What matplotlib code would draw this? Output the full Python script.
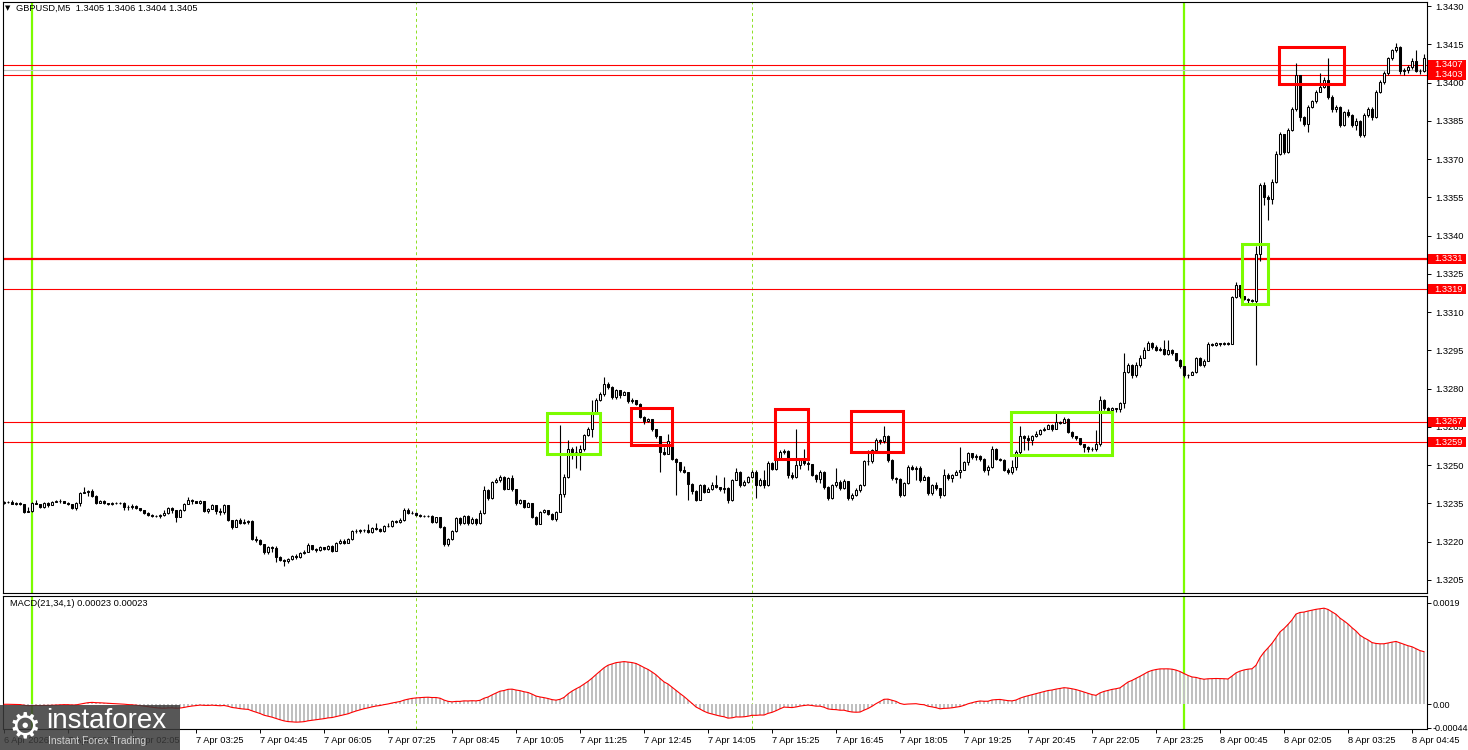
import numpy as np
import pandas as pd
import matplotlib
matplotlib.use('Agg')
import matplotlib.pyplot as plt
import matplotlib.transforms as mtransforms
from matplotlib.patches import Rectangle

plt.rcParams['font.family'] = ['Liberation Sans', 'DejaVu Sans']

# GBPUSD M5, bars numbered from 7 Apr 00:00 (bar 0), first bar 6 Apr 23:25
# prices given in pips above 1.3200
first_bar = -7
first_open_pips = 35.3
close_pips = [
    35.5, 35.6, 34.8, 35.2, 34.7, 31.7, 32.1, 35.3, 34.9, 33.6,
    35.3, 34.3, 35.6, 36.1, 35.8, 35.3, 34.6, 33.4, 35.1, 39.0,
    39.4, 39.8, 38.0, 35.2, 36.0, 35.0, 34.8, 35.2, 35.0, 35.3,
    33.8, 33.5, 34.1, 33.2, 32.3, 31.4, 30.6, 30.2, 30.0, 30.6,
    31.3, 33.2, 32.5, 29.8, 32.4, 34.9, 36.3, 35.8, 35.3, 35.8,
    32.2, 33.0, 34.3, 32.0, 31.5, 34.4, 28.5, 25.8, 28.5, 27.2,
    27.6, 28.2, 20.9, 20.8, 19.2, 15.8, 18.0, 17.4, 14.2, 12.8,
    12.3, 13.3, 14.4, 13.9, 15.5, 16.1, 18.7, 17.0, 16.6, 17.8,
    17.1, 18.4, 16.3, 19.4, 20.4, 19.6, 20.9, 24.2, 24.3, 24.4,
    24.6, 24.0, 25.4, 25.1, 24.2, 26.3, 26.0, 28.1, 27.8, 28.4,
    32.6, 31.4, 31.3, 30.4, 30.2, 30.1, 30.0, 27.8, 29.5, 25.9,
    19.0, 20.9, 24.3, 29.2, 27.2, 30.1, 27.2, 29.1, 27.2, 31.3,
    40.2, 37.0, 43.4, 44.1, 45.4, 40.8, 44.8, 40.5, 35.0, 36.3,
    33.7, 35.0, 29.8, 27.1, 31.7, 32.3, 31.0, 29.1, 31.7, 38.9,
    45.4, 56.5, 55.2, 55.0, 56.2, 61.7, 64.3, 70.2, 75.4, 78.0,
    82.0, 80.7, 76.6, 79.3, 77.4, 78.5, 75.0, 75.4, 74.0, 69.0,
    67.3, 68.0, 64.0, 61.3, 55.2, 54.5, 59.5, 52.6, 51.3, 48.0,
    47.4, 42.8, 40.0, 36.5, 42.2, 39.6, 40.5, 42.2, 41.5, 40.5,
    41.0, 36.3, 44.2, 47.4, 42.2, 43.5, 45.2, 47.4, 42.2, 44.0,
    42.2, 51.0, 48.7, 52.6, 55.0, 55.5, 46.1, 45.5, 50.0, 52.0,
    51.0, 50.5, 46.1, 44.5, 47.5, 41.5, 37.2, 42.2, 43.5, 41.0,
    43.8, 37.2, 38.5, 40.3, 42.2, 51.5, 51.8, 55.8, 59.8, 59.3,
    61.5, 52.0, 44.8, 44.5, 38.5, 42.9, 49.4, 48.6, 48.8, 44.2,
    45.5, 39.0, 42.2, 40.9, 38.3, 46.1, 44.8, 46.1, 47.4, 48.1,
    51.3, 54.6, 53.3, 53.6, 52.5, 48.1, 49.4, 56.5, 52.6, 52.0,
    48.1, 47.4, 49.4, 55.2, 61.4, 60.6, 59.8, 61.4, 62.1, 63.7,
    64.2, 65.7, 64.0, 67.0, 66.7, 68.3, 63.1, 61.4, 60.6, 58.5,
    57.2, 56.5, 56.3, 58.3, 75.5, 72.5, 71.6, 72.5, 72.0, 74.2,
    86.6, 89.2, 85.3, 89.2, 92.2, 95.3, 97.9, 96.4, 95.3, 95.6,
    93.5, 95.1, 93.8, 91.4, 88.8, 85.3, 85.5, 86.6, 92.2, 89.2,
    91.0, 97.7, 97.0, 97.9, 97.5, 97.9, 97.7, 116.0, 120.5, 116.2,
    115.3, 114.8, 114.5, 132.7, 159.7, 155.0, 154.5, 161.0, 172.1, 179.7,
    172.7, 181.5, 189.7, 202.8, 186.5, 183.8, 190.4, 192.7, 196.3, 198.2,
    201.1, 194.3, 189.7, 190.3, 183.2, 188.4, 187.1, 183.2, 185.0, 179.3,
    187.1, 189.7, 186.5, 196.3, 200.2, 203.8, 209.6, 212.6, 214.0, 204.7,
    205.0, 206.2, 208.6, 204.7, 204.5, 209.5,
]
high_pips = [
    35.9, 36.1, 36.3, 35.6, 35.4, 34.9, 33.6, 35.7, 36.3, 34.9,
    35.6, 35.5, 35.8, 36.4, 36.6, 36.1, 35.6, 34.7, 35.4, 39.3,
    41.4, 40.4, 40.5, 38.3, 36.3, 36.2, 35.3, 35.6, 35.5, 35.6,
    35.4, 34.2, 34.6, 34.5, 33.4, 32.5, 31.6, 30.9, 30.6, 30.9,
    32.4, 33.5, 33.7, 32.3, 32.7, 35.2, 37.7, 36.6, 36.0, 36.5,
    35.9, 33.4, 34.6, 34.5, 33.4, 34.7, 34.3, 28.6, 28.8, 29.4,
    28.8, 28.6, 28.4, 22.1, 21.2, 18.6, 18.4, 18.5, 18.3, 14.5,
    13.4, 13.6, 14.7, 15.2, 15.9, 16.8, 19.5, 18.9, 17.5, 18.2,
    17.9, 18.8, 18.6, 19.8, 21.1, 20.9, 21.3, 24.6, 24.8, 24.9,
    25.0, 26.9, 25.7, 27.4, 25.2, 26.6, 27.3, 28.5, 28.6, 29.2,
    33.4, 33.1, 32.0, 31.5, 30.8, 30.6, 30.5, 30.3, 29.8, 29.3,
    26.2, 21.3, 24.7, 29.6, 29.5, 30.5, 30.4, 29.5, 29.4, 32.5,
    41.9, 40.5, 43.8, 45.0, 46.2, 45.9, 45.4, 46.0, 40.7, 36.8,
    36.5, 35.4, 35.2, 30.0, 32.1, 32.9, 32.6, 31.2, 32.0, 65.6,
    46.5, 60.0, 57.0, 57.5, 57.8, 62.3, 65.0, 75.4, 76.2, 78.8,
    84.6, 82.6, 80.9, 80.0, 79.5, 79.2, 78.6, 76.2, 75.0, 74.2,
    69.2, 68.6, 68.2, 64.3, 61.5, 57.0, 62.4, 59.8, 53.0, 50.9,
    49.5, 47.0, 43.0, 40.1, 42.8, 42.5, 41.6, 43.5, 46.1, 41.5,
    45.5, 41.3, 44.6, 49.0, 47.6, 44.2, 45.8, 48.2, 48.0, 45.0,
    48.0, 51.8, 51.4, 54.0, 56.0, 56.2, 55.8, 47.3, 64.0, 53.0,
    56.2, 51.5, 50.0, 46.5, 48.0, 47.8, 42.0, 42.8, 49.0, 44.0,
    44.5, 42.5, 39.0, 41.0, 42.8, 52.0, 56.0, 56.3, 60.5, 60.3,
    65.3, 61.8, 52.5, 45.5, 45.0, 43.5, 49.9, 50.0, 49.5, 49.5,
    46.2, 45.8, 42.6, 43.5, 40.9, 48.5, 47.0, 46.6, 48.3, 57.2,
    51.8, 55.2, 54.8, 54.5, 54.0, 52.8, 50.0, 57.5, 56.8, 53.0,
    52.5, 48.8, 52.0, 56.0, 65.3, 62.0, 61.8, 62.0, 63.5, 64.2,
    65.0, 66.3, 66.2, 70.7, 67.5, 68.8, 68.6, 63.5, 61.6, 60.0,
    58.5, 57.6, 57.2, 63.7, 77.0, 76.0, 72.8, 73.0, 72.6, 74.8,
    94.0, 90.0, 89.5, 90.5, 93.0, 96.5, 98.5, 98.3, 97.0, 96.2,
    99.0, 99.2, 95.5, 94.0, 91.6, 89.0, 85.8, 87.0, 92.6, 92.5,
    91.5, 98.3, 98.0, 98.4, 98.0, 98.3, 98.4, 116.5, 122.0, 120.8,
    116.5, 115.5, 115.2, 136.0, 160.5, 161.0, 156.0, 162.0, 173.0, 180.5,
    180.0, 182.0, 190.5, 207.6, 203.0, 187.0, 191.0, 193.3, 197.0, 203.7,
    202.0, 209.8, 195.0, 191.0, 190.8, 189.0, 189.5, 187.5, 186.0, 185.3,
    188.0, 190.5, 190.5, 197.0, 201.0, 204.5, 210.0, 213.2, 215.5, 214.3,
    205.8, 206.8, 209.5, 212.6, 205.5, 211.0,
]
low_pips = [
    34.9, 35.1, 34.6, 34.5, 34.3, 31.4, 31.5, 31.8, 34.7, 33.3,
    33.4, 33.5, 34.2, 35.4, 35.3, 35.1, 34.3, 32.7, 32.5, 33.9,
    39.0, 38.0, 37.6, 34.8, 35.1, 34.7, 34.2, 34.3, 34.8, 34.9,
    32.5, 32.4, 32.9, 33.0, 31.9, 31.0, 30.2, 29.8, 29.7, 29.4,
    30.2, 31.0, 31.3, 27.9, 29.6, 32.2, 34.9, 34.9, 35.0, 34.6,
    31.5, 31.1, 32.8, 31.0, 30.6, 30.9, 28.0, 25.1, 25.6, 26.8,
    26.8, 27.0, 20.5, 19.8, 18.8, 15.3, 15.2, 16.0, 12.0, 12.3,
    10.6, 11.8, 12.9, 13.4, 13.7, 15.3, 15.9, 16.7, 15.9, 16.4,
    16.6, 16.9, 15.9, 16.2, 19.1, 19.3, 19.5, 20.6, 23.5, 23.6,
    23.8, 23.6, 23.4, 24.6, 23.9, 24.0, 25.6, 25.7, 27.4, 27.5,
    28.1, 30.9, 30.8, 30.1, 29.7, 29.7, 29.6, 27.5, 27.3, 25.5,
    18.4, 18.3, 20.6, 24.0, 26.7, 26.9, 26.6, 26.8, 26.5, 27.0,
    31.0, 36.2, 36.8, 43.0, 43.6, 40.3, 40.5, 40.0, 34.2, 34.8,
    33.2, 33.5, 29.3, 26.5, 26.9, 31.4, 30.6, 28.6, 28.3, 31.5,
    37.6, 45.0, 52.5, 49.0, 48.0, 55.5, 61.3, 61.0, 70.0, 75.0,
    77.0, 80.0, 75.8, 76.0, 76.5, 77.8, 74.5, 74.3, 73.5, 68.5,
    66.2, 67.0, 63.5, 60.5, 47.4, 53.8, 54.3, 52.0, 38.2, 47.2,
    46.8, 36.3, 38.8, 35.8, 36.2, 39.0, 39.3, 40.2, 40.9, 40.0,
    39.0, 35.0, 36.0, 44.0, 41.6, 41.8, 43.0, 44.8, 37.0, 41.8,
    41.0, 42.0, 48.0, 48.2, 52.3, 54.5, 45.0, 44.5, 45.0, 48.5,
    50.2, 48.0, 45.6, 43.5, 43.0, 40.5, 36.5, 36.8, 41.5, 40.2,
    40.5, 36.3, 36.4, 37.8, 39.5, 42.0, 50.2, 51.0, 54.8, 58.5,
    58.8, 51.3, 44.0, 43.2, 37.5, 38.0, 42.5, 48.0, 44.0, 43.6,
    44.0, 38.4, 38.5, 40.3, 37.3, 38.0, 44.3, 43.5, 46.2, 45.0,
    49.0, 50.0, 52.5, 52.2, 51.8, 47.5, 46.0, 49.0, 52.0, 51.5,
    47.6, 46.7, 46.5, 48.0, 54.5, 56.0, 56.0, 58.0, 61.0, 62.0,
    63.4, 64.0, 63.5, 64.0, 66.0, 66.5, 62.5, 60.5, 60.0, 57.8,
    55.0, 55.0, 55.5, 55.5, 57.5, 71.5, 70.8, 71.0, 70.9, 71.0,
    72.5, 86.0, 84.0, 84.6, 88.5, 92.0, 95.0, 95.5, 94.8, 94.9,
    93.0, 93.2, 93.3, 90.8, 88.2, 84.6, 84.3, 85.2, 86.3, 88.7,
    88.5, 90.8, 96.6, 96.8, 96.9, 97.0, 97.3, 97.5, 115.5, 115.6,
    114.7, 113.5, 113.9, 89.2, 130.0, 152.0, 146.0, 152.5, 160.5, 171.5,
    172.0, 172.5, 181.0, 189.0, 185.0, 183.0, 180.5, 190.0, 192.0, 197.0,
    198.0, 193.5, 188.5, 188.5, 182.5, 182.8, 186.5, 182.5, 181.5, 178.5,
    178.8, 186.5, 185.5, 186.0, 196.0, 199.5, 203.0, 209.0, 212.0, 203.5,
    203.0, 203.8, 205.5, 204.0, 203.3, 204.0,
]

# support / resistance levels and the bid line
levels = [1.3407, 1.3403, 1.3331, 1.3319, 1.3267, 1.3259]
level_labels = ['1.3407', '1.3403', '1.3331', '1.3319', '1.3267', '1.3259']
bid = 1.3405

# signal boxes: (first bar, last bar, low price, high price, kind)
boxes = [
    (128.7, 142.0, 1.32544, 1.32706, 'buy'),
    (149.7, 159.9, 1.32579, 1.32725, 'sell'),
    (185.8, 194.1, 1.32523, 1.32719, 'sell'),
    (204.8, 217.8, 1.32553, 1.32714, 'sell'),
    (244.7, 270.1, 1.32540, 1.32710, 'buy'),
    (302.6, 309.1, 1.33132, 1.33367, 'buy'),
    (311.75, 328.1, 1.33993, 1.34140, 'sell'),
]
day_lines = [0, 288]
dash_lines = [96, 180]

price_ticks = [1.3205, 1.3220, 1.3235, 1.3250, 1.3265, 1.3280, 1.3295, 1.3310,
               1.3325, 1.3340, 1.3355, 1.3370, 1.3385, 1.3400, 1.3415, 1.3430]
macd_ticks = [-0.00044, 0.0, 0.0019]
macd_tick_labels = ['-0.00044', '0.00', '0.0019']
time_ticks = [-7, 9, 25, 41, 57, 73, 89, 105, 121, 137, 153, 169, 185, 201,
              217, 233, 249, 265, 281, 297, 313, 329, 345]
time_labels = ['6 Apr 2026', '7 Apr 00:45', '7 Apr 02:05', '7 Apr 03:25', '7 Apr 04:45',
               '7 Apr 06:05', '7 Apr 07:25', '7 Apr 08:45', '7 Apr 10:05', '7 Apr 11:25',
               '7 Apr 12:45', '7 Apr 14:05', '7 Apr 15:25', '7 Apr 16:45', '7 Apr 18:05',
               '7 Apr 19:25', '7 Apr 20:45', '7 Apr 22:05', '7 Apr 23:25', '8 Apr 00:45',
               '8 Apr 02:05', '8 Apr 03:25', '8 Apr 04:45']

close = 1.32 + np.array(close_pips) / 1e4
high = 1.32 + np.array(high_pips) / 1e4
low = 1.32 + np.array(low_pips) / 1e4
opn = np.r_[1.32 + first_open_pips / 1e4, close[:-1]]
bars = np.arange(first_bar, first_bar + len(close))

s = pd.Series(close)
macd = (s.ewm(span=21, adjust=False).mean() - s.ewm(span=34, adjust=False).mean()).values

W, H = 1468, 750
fig = plt.figure(figsize=(W / 100, H / 100), dpi=100)
ax = fig.add_axes([2.5 / W, 1 - 593 / H, (1427 - 2.5) / W, (593 - 2) / H])
ax2 = fig.add_axes([2.5 / W, 1 - 729 / H, (1427 - 2.5) / W, (729 - 595.5) / H])

xlim = (-7.4, 348.75)
for a in (ax, ax2):
    a.set_xlim(*xlim)
    for sp in a.spines.values():
        sp.set_linewidth(0.8)
        sp.set_color('black')
    a.yaxis.tick_right()
    a.tick_params(axis='y', direction='out', length=3, width=0.7, pad=3,
                  labelsize=6.7, colors='black')
    for d in day_lines:
        a.axvline(d, color='#7cfc00', lw=1.6, zorder=1)
    for d in dash_lines:
        a.axvline(d, color='#8ce020', lw=0.7, ls=(0, (3, 3)), zorder=1)

# main price panel
ax.set_ylim(1.319990, 1.343157)
ax.set_yticks(price_ticks)
ax.set_yticklabels([f'{p:.4f}' for p in price_ticks])
ax.tick_params(axis='x', bottom=False, labelbottom=False)

for lv in levels:
    ax.axhline(lv, color='red', lw=1.6 if lv == 1.3331 else 0.8, zorder=1.5)
ax.axhline(bid, color='#c0c0c0', lw=0.8, zorder=1.4)

ax.vlines(bars, low, high, color='black', lw=0.8, zorder=2)
up = close >= opn
bottoms = np.minimum(opn, close)
heights = np.maximum(np.abs(close - opn), 0.000004)
ax.bar(bars[up], heights[up], bottom=bottoms[up], width=0.5, facecolor='white',
       edgecolor='black', linewidth=0.75, zorder=3)
ax.bar(bars[~up], heights[~up], bottom=bottoms[~up], width=0.5, facecolor='black',
       edgecolor='black', linewidth=0.75, zorder=3)

for k0, k1, p0, p1, kind in boxes:
    col = '#7cfc00' if kind == 'buy' else '#ff0000'
    ax.add_patch(Rectangle((k0, p0), k1 - k0, p1 - p0, fill=False, edgecolor=col,
                           linewidth=2.2, zorder=4))

trans = mtransforms.blended_transform_factory(ax.transAxes, ax.transData)
box_w = 38 / (1427 - 2.5)
box_h = 10 / 25511
for lv, lab in zip(levels, level_labels):
    ax.add_patch(Rectangle((1.0007, lv - box_h / 2), box_w, box_h, transform=trans,
                           facecolor='#ff0000', edgecolor='none', clip_on=False, zorder=10))
    ax.text(1.0049, lv, lab, transform=trans, color='white', fontsize=6.7,
            ha='left', va='center', clip_on=False, zorder=11)

fig.text(5 / W, 1 - 8 / H, '\u25bc', fontsize=5, va='center', ha='left',
         family=['DejaVu Sans'])
fig.text(16 / W, 1 - 8 / H, 'GBPUSD,M5  1.3405 1.3406 1.3404 1.3405', fontsize=6.7,
         va='center', ha='left')

# MACD panel
ax2.set_ylim(-0.000462, 0.002035)
ax2.bar(bars, macd, width=0.5, color='#c0c0c0', zorder=2)
ax2.plot(bars, macd, color='red', lw=0.8, zorder=3)
ax2.set_yticks(macd_ticks)
ax2.set_yticklabels(macd_tick_labels)
ax2.tick_params(axis='y', pad=1, labelsize=6.5)
ax2.set_xticks(time_ticks)
ax2.set_xticklabels(time_labels)
ax2.tick_params(axis='x', direction='out', length=3, width=0.7, pad=2, labelsize=6.7)
for t in ax2.get_xticklabels():
    t.set_horizontalalignment('left')
ax2.text(7 / (1427 - 2.5), 0.94, 'MACD(21,34,1) 0.00023 0.00023',
         transform=ax2.transAxes, fontsize=6.7, va='center', ha='left')

# watermark logo
fig.patches.append(Rectangle((0, 0), 180 / W, 45 / H, transform=fig.transFigure,
                             facecolor='#3a3a3a', alpha=0.85, edgecolor='none', zorder=20))
fig.text(25 / W, 1 - 727 / H, '\u2699', fontsize=26, color='white', ha='center',
         va='center', family=['DejaVu Sans'], zorder=21)
fig.text(46 / W, 1 - 721 / H, 'instaforex', fontsize=20, color='white', ha='left',
         va='center', zorder=21)
fig.text(48 / W, 1 - 741 / H, 'Instant Forex Trading', fontsize=7.5, color='#cfcfcf',
         ha='left', va='center', zorder=21)

fig.savefig('out.png', dpi=100)
